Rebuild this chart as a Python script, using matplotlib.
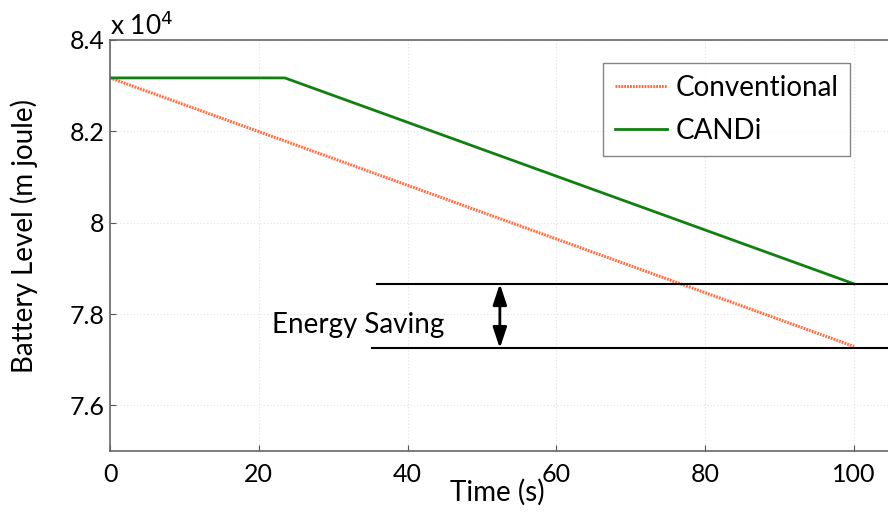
import matplotlib
matplotlib.use("Agg")
import matplotlib.pyplot as plt

plt.rcParams['font.family'] = ['Lato', 'DejaVu Sans']

# Data (values in units of 1e4 m joule)
time_conv = [0, 100]
conventional = [8.317, 7.729]
time_candi = [0, 23.5, 100]
candi = [8.317, 8.317, 7.866]
x_ticks = [0, 20, 40, 60, 80, 100]
y_ticks = [7.6, 7.8, 8.0, 8.2, 8.4]
y_tick_labels = ['7.6', '7.8', '8', '8.2', '8.4']
saving_upper = 7.866
saving_lower = 7.725

W, H = 888, 515
fig = plt.figure(figsize=(W / 100, H / 100), dpi=100)
ax = fig.add_axes([110 / W, 64 / H, 1 - 110 / W, 411 / H])

ax.set_xlim(0, 104.57)
ax.set_ylim(7.5, 8.4)

ax.plot(time_conv, conventional, color='#ff6f3f', lw=2.2,
        linestyle=(0, (0.6, 0.35)), label='Conventional')
ax.plot(time_candi, candi, color='#108010', lw=2, label='CANDi')

# Energy saving annotation
ax.plot([35.9, 104.57], [saving_upper, saving_upper], color='black', lw=1.5, clip_on=False)
ax.plot([35.2, 104.57], [saving_lower, saving_lower], color='black', lw=1.5, clip_on=False)
ax.annotate('', xy=(52.4, saving_upper), xytext=(52.4, saving_lower),
            arrowprops=dict(arrowstyle='<|-|>,head_length=0.9,head_width=0.3',
                            color='black', lw=2, mutation_scale=14,
                            shrinkA=0, shrinkB=0))
ax.text(33.4, 7.775, 'Energy Saving', fontsize=20, ha='center', va='center')

ax.set_xticks(x_ticks)
ax.set_yticks(y_ticks)
ax.set_yticklabels(y_tick_labels)
ax.tick_params(direction='in', length=4, labelsize=18, colors='#555555',
               labelcolor='black', top=False, right=False)
ax.tick_params(axis='x', pad=9)
ax.tick_params(axis='y', pad=4)
ax.grid(True, color='#e2e2e2', linestyle=(0, (1, 2)), lw=0.8)

for side in ['left', 'bottom', 'top']:
    ax.spines[side].set_color('#666666')
    ax.spines[side].set_linewidth(1.2)
ax.spines['right'].set_visible(False)

ax.set_xlabel('Time (s)', fontsize=20)
ax.xaxis.set_label_coords((497 - 110) / 778, -(479 - 451) / 411)
ax.set_ylabel('Battery Level (m joule)', fontsize=20)
ax.yaxis.set_label_coords(-(110 - 38) / 778, (451 - 236) / 411)

fig.text(110 / W, 1 - 26 / H, r'x 10$^{4}$', fontsize=19, ha='left', va='center')

leg = ax.legend(loc='upper left',
                bbox_to_anchor=(603 / W, 1 - 63 / H), bbox_transform=fig.transFigure,
                borderaxespad=0,
                fontsize=20, frameon=True, fancybox=False, handlelength=1.87,
                borderpad=0.43, labelspacing=0.6, handletextpad=0.3)
leg.get_frame().set_edgecolor('#666666')
leg.get_frame().set_linewidth(1.0)

fig.savefig('out.png', dpi=100)
